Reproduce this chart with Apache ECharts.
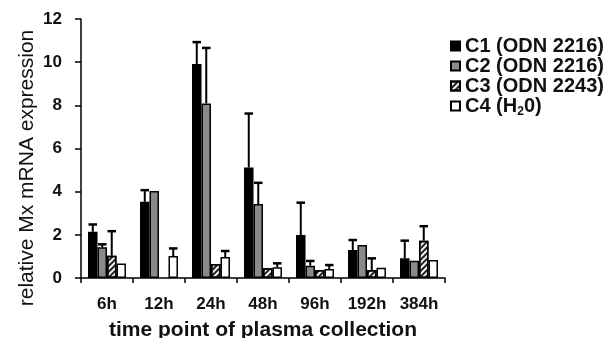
<!DOCTYPE html>
<html><head><meta charset="utf-8">
<script src="https://cdn.jsdelivr.net/npm/echarts@6/dist/echarts.min.js"></script>
<style>html,body{margin:0;padding:0;background:#fff}#c{width:610px;height:338px}</style>
</head><body><div id="c"></div>
<script>
const categories = ['6h','12h','24h','48h','96h','192h','384h'];
const seriesNames = ['C1 (ODN 2216)','C2 (ODN 2216)','C3 (ODN 2243)','C4 (H{sub|2}0)'];
const c1 = [2.14, 3.53, 9.91, 5.12, 1.99, 1.30, 0.91];
const c1Err = [2.48, 4.07, 10.93, 7.62, 3.49, 1.76, 1.73];
const c2 = [1.42, 4.03, 8.09, 3.43, 0.57, 1.53, 0.80];
const c2Err = [1.56, null, 10.66, 4.41, 0.79, null, null];
const c3 = [1.03, null, 0.65, 0.45, 0.37, 0.37, 1.73];
const c3Err = [2.17, null, null, null, null, 0.91, 2.40];
const c4 = [0.67, 1.02, 0.97, 0.50, 0.42, 0.48, 0.83];
const c4Err = [null, 1.37, 1.25, 0.68, 0.60, null, null];
const yTicks = [0, 2, 4, 6, 8, 10, 12];

const FONT = 'Liberation Sans, Arial, sans-serif';
const GAP = 0.27;
const vals = [c1, c2, c3, c4];
const errs = [c1Err, c2Err, c3Err, c4Err];
const fills = ['#000000', '#8a8a8a', '#f2f2f2', '#ffffff'];

const chart = echarts.init(document.getElementById('c'), null, {renderer: 'canvas'});
const series = [];
vals.forEach((v, i) => {
  const s = {
    name: seriesNames[i], type: 'bar', data: v,
    barGap: '0%', barCategoryGap: (GAP * 100) + '%',
    itemStyle: {color: fills[i], borderColor: '#000', borderWidth: 1.5},
    emphasis: {disabled: true}, z: 2
  };
  if (i === 2) {
    s.itemStyle.decal = {symbol: 'rect', symbolSize: 1, dashArrayX: [[1, 0]], dashArrayY: [2, 2], rotation: -Math.PI / 4, color: '#222'};
  }
  series.push(s);
});
errs.forEach((e, i) => {
  const data = [];
  e.forEach((hi, k) => { if (hi != null) data.push([k, vals[i][k], hi]); });
  series.push({
    type: 'custom', z: 5, silent: true,
    encode: {x: 0, y: [1, 2]},
    data: data,
    renderItem: (params, api) => {
      const p0 = api.coord([api.value(0), api.value(1)]);
      const p1 = api.coord([api.value(0), api.value(2)]);
      const catW = api.size([1, 0])[0];
      const bw = catW * (1 - GAP) / 4;
      const x = p0[0] + (i - 1.5) * bw;
      const half = bw * 0.45;
      return {type: 'group', children: [
        {type: 'line', shape: {x1: x, y1: p0[1], x2: x, y2: p1[1]}, style: {stroke: '#000', lineWidth: 2}},
        {type: 'line', shape: {x1: x - half, y1: p1[1], x2: x + half, y2: p1[1]}, style: {stroke: '#000', lineWidth: 2.5}}
      ]};
    }
  });
});

chart.setOption({
  animation: false,
  backgroundColor: '#fff',
  textStyle: {fontFamily: FONT},
  grid: {left: 81, right: 165, top: 19, bottom: 60, containLabel: false, outerBoundsMode: 'none'},
  legend: {
    data: seriesNames, orient: 'vertical', left: 445, top: 29,
    itemWidth: 9, itemHeight: 9, itemGap: -4, icon: 'rect',
    textStyle: {fontFamily: FONT, fontWeight: 'bold', fontSize: 20, color: '#111', lineHeight: 24,
      rich: {sub: {fontSize: 12, fontWeight: 'bold', fontFamily: FONT, color: '#111', lineHeight: 12, verticalAlign: 'bottom', padding: [12, 0, 0, 0]}}},
    formatter: n => n
  },
  xAxis: {
    type: 'category', data: categories,
    axisLine: {lineStyle: {color: '#000', width: 1.5}},
    axisTick: {show: true, length: 5, lineStyle: {color: '#000', width: 1.5}},
    axisLabel: {fontFamily: FONT, fontWeight: 'bold', fontSize: 17, color: '#111', margin: 18},
    name: 'time point of plasma collection', nameLocation: 'middle', nameGap: 42,
    nameTextStyle: {fontFamily: FONT, fontWeight: 'bold', fontSize: 21, color: '#111'}
  },
  yAxis: {
    type: 'value', min: yTicks[0], max: yTicks[yTicks.length - 1], interval: 2,
    axisLine: {show: true, lineStyle: {color: '#000', width: 1.5}},
    axisTick: {show: true, length: 6, lineStyle: {color: '#000', width: 1.5}},
    splitLine: {show: false},
    axisLabel: {fontFamily: FONT, fontWeight: 'bold', fontSize: 17, color: '#111', margin: 19}
  },
  graphic: [{
    type: 'text', x: 27, y: 168, rotation: Math.PI / 2,
    style: {text: 'relative Mx mRNA expression', font: '21px ' + FONT, fill: '#111', align: 'center', verticalAlign: 'middle'}
  }],
  series: series
});
</script></body></html>
